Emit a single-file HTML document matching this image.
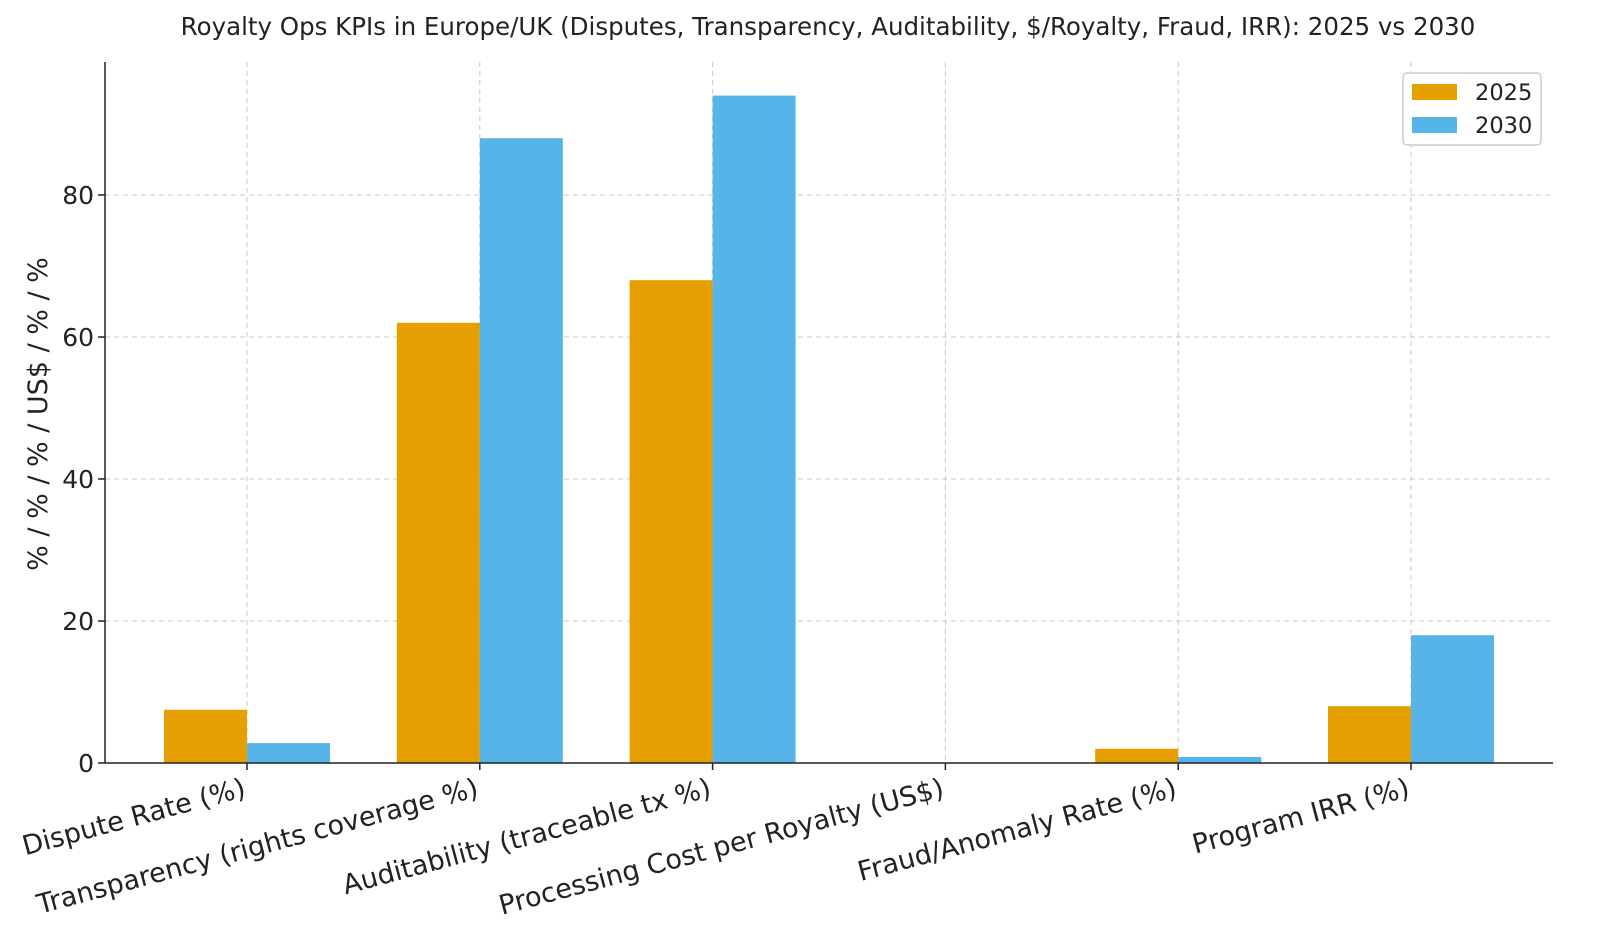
<!DOCTYPE html>
<html><head><meta charset="utf-8"><style>
html,body{margin:0;padding:0;background:#fff;}
svg{display:block;font-family:"DejaVu Sans","Liberation Sans",sans-serif;}
</style></head><body>
<svg id="chart" width="1600" height="928">
<text x="828" y="35" text-anchor="middle" font-size="24.5" fill="#222">Royalty Ops KPIs in Europe/UK (Disputes, Transparency, Auditability, $/Royalty, Fraud, IRR): 2025 vs 2030</text>
<g id="grid"></g>
<g id="bars"></g>
<g id="axes"></g>
<g>
<rect x="1403" y="73" width="138" height="72" rx="4" fill="#fff" stroke="#ccc" stroke-width="1.5"/>
<rect x="1412" y="84" width="45" height="16" fill="#E69F00"/>
<text x="1475" y="100" font-size="22.5" fill="#222">2025</text>
<rect x="1412" y="117" width="45" height="16" fill="#56B4E9"/>
<text x="1475" y="133" font-size="22.5" fill="#222">2030</text>
</g>
<text transform="translate(47,414) rotate(-90)" text-anchor="middle" font-size="27" fill="#222">% / % / % / US$ / % / %</text>
</svg>
<script>
const categories=["Dispute Rate (%)","Transparency (rights coverage %)","Auditability (traceable tx %)","Processing Cost per Royalty (US$)","Fraud/Anomaly Rate (%)","Program IRR (%)"];
const values2025=[7.5,62,68,0.05,2.0,8];
const values2030=[2.8,88,94,0.02,0.85,18];
const yTicks=[0,20,40,60,80];
const NS="http://www.w3.org/2000/svg";
const L=105,R=1553,T=62,B=763;
const y=v=>B-v*7.1;
const x=i=>247+i*232.8;
const bw=83;
function mk(tag,attrs,parent){const e=document.createElementNS(NS,tag);for(const k in attrs)e.setAttribute(k,attrs[k]);parent.appendChild(e);return e;}
const grid=document.getElementById('grid'),bars=document.getElementById('bars'),axes=document.getElementById('axes');
yTicks.forEach(t=>{
 const g=mk('line',{x1:L,x2:R,y1:y(t),y2:y(t),stroke:'#c8c8c8','stroke-dasharray':'5,4'},grid);
 
 
 const tk=mk('line',{x1:L-7,x2:L,y1:y(t),y2:y(t),stroke:'#222','stroke-width':1.5},axes);
 
 
 const tx=mk('text',{x:L-11,y:y(t)+9,'text-anchor':'end','font-size':25,fill:'#222'},axes);
 tx.textContent=t;
 
 
});
categories.forEach((c,i)=>{
 const cx=x(i);
 const g=mk('line',{x1:cx,x2:cx,y1:T,y2:B,stroke:'#c8c8c8','stroke-dasharray':'5,4'},grid);
 
 
 const b1=mk('rect',{x:cx-bw,y:y(values2025[i]),width:bw,height:B-y(values2025[i]),fill:'#E69F00'},bars);
 
 
 const b2=mk('rect',{x:cx,y:y(values2030[i]),width:bw,height:B-y(values2030[i]),fill:'#56B4E9'},bars);
 
 
 const tk=mk('line',{x1:cx,x2:cx,y1:B,y2:B+7,stroke:'#222','stroke-width':1.5},axes);
 
 
 const tx=mk('text',{transform:`translate(${cx},${B+33}) rotate(-15)`,'text-anchor':'end','font-size':27,fill:'#222'},axes);
 tx.textContent=c;
 
 
});
const ax1=mk('line',{x1:L,x2:L,y1:T,y2:B,stroke:'#222','stroke-width':1.5},axes);


const ax2=mk('line',{x1:L,x2:R,y1:B,y2:B,stroke:'#222','stroke-width':1.5},axes);


</script>
</body></html>
